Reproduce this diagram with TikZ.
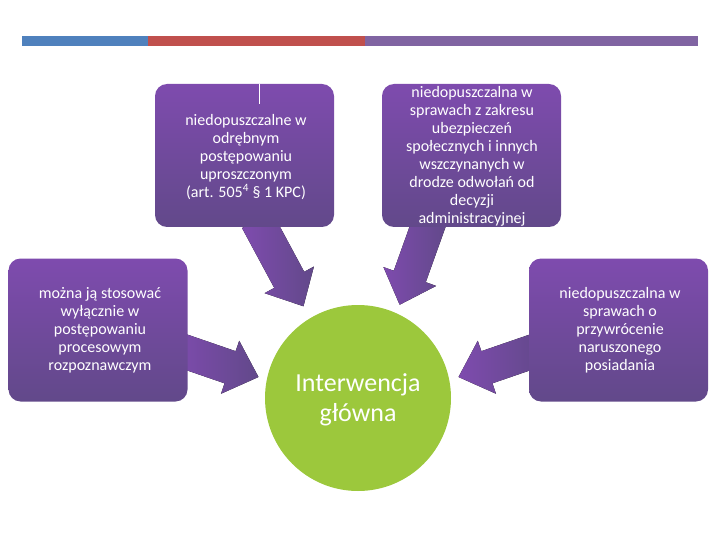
\documentclass[tikz,border=0pt]{standalone}
\usepackage{fontspec}
\setmainfont{Carlito}
\definecolor{pA}{HTML}{7E4BAE}
\definecolor{pB}{HTML}{62498A}
\definecolor{grn}{HTML}{9CC83C}
\tikzset{
 box/.style={rounded corners=12pt, top color=pA, bottom color=pB, draw=none, minimum width=179pt, minimum height=143pt, inner sep=0pt},
 txt/.style={text=white, align=center, font=\fontsize{16}{18}\selectfont, inner sep=0pt},
 barr/.style={left color=pA, right color=pB, draw=none},
}
\newcommand\blockarrow[4]{% x y angle length
 \fill[barr, shift={(#1,#2)}, rotate=#3] (0,-17) -- (#4-30,-17) -- (#4-30,-28) -- (#4,0) -- (#4-30,28) -- (#4-30,17) -- (0,17) -- cycle;}
\begin{document}
\begin{tikzpicture}[x=1pt,y=-1pt]
\useasboundingbox (0,0) rectangle (720,540);
\fill[fill={rgb,255:red,79;green,129;blue,189}] (22,36) rectangle (148,46);
\fill[fill={rgb,255:red,192;green,80;blue,77}] (148,36) rectangle (365,46);
\fill[fill={rgb,255:red,128;green,100;blue,162}] (365,36) rectangle (698,46);
% arrows
\blockarrow{257}{220}{-61.7}{98}
\blockarrow{430}{220}{-109.7}{90}
\blockarrow{180}{350}{-19}{83}
\blockarrow{537}{350}{199}{83}
% boxes
\node[box] (b1) at (244.5,155.5) {};
\node[txt] (t1) at (246,157) {niedopuszczalne w\\ odrębnym\\ postępowaniu\\ uproszczonym\\ (art. 505\textsuperscript{4} § 1 KPC)};
\draw[white, line width=1pt] (259,84) -- (259,104);
\node[box] (b2) at (471.5,155.5) {};
\node[txt] (t2) at (472,156) {niedopuszczalna w\\ sprawach z zakresu\\ ubezpieczeń\\ społecznych i innych\\ wszczynanych w\\ drodze odwołań od\\ decyzji\\ administracyjnej};
\node[box] (b3) at (98,330) {};
\node[txt] (t3) at (100,330) {można ją stosować\\ wyłącznie w\\ postępowaniu\\ procesowym\\ rozpoznawczym};
\node[box] (b4) at (618.5,330) {};
\node[txt] (t4) at (620,330) {niedopuszczalna w\\ sprawach o\\ przywrócenie\\ naruszonego\\ posiadania};
% circle
\node[circle, fill=grn, minimum size=186pt, inner sep=0pt] (c) at (358,398) {};
\node[txt, font=\fontsize{26}{30}\selectfont] (tc) at (358,400) {Interwencja\\ główna};
\end{tikzpicture}
\end{document}
